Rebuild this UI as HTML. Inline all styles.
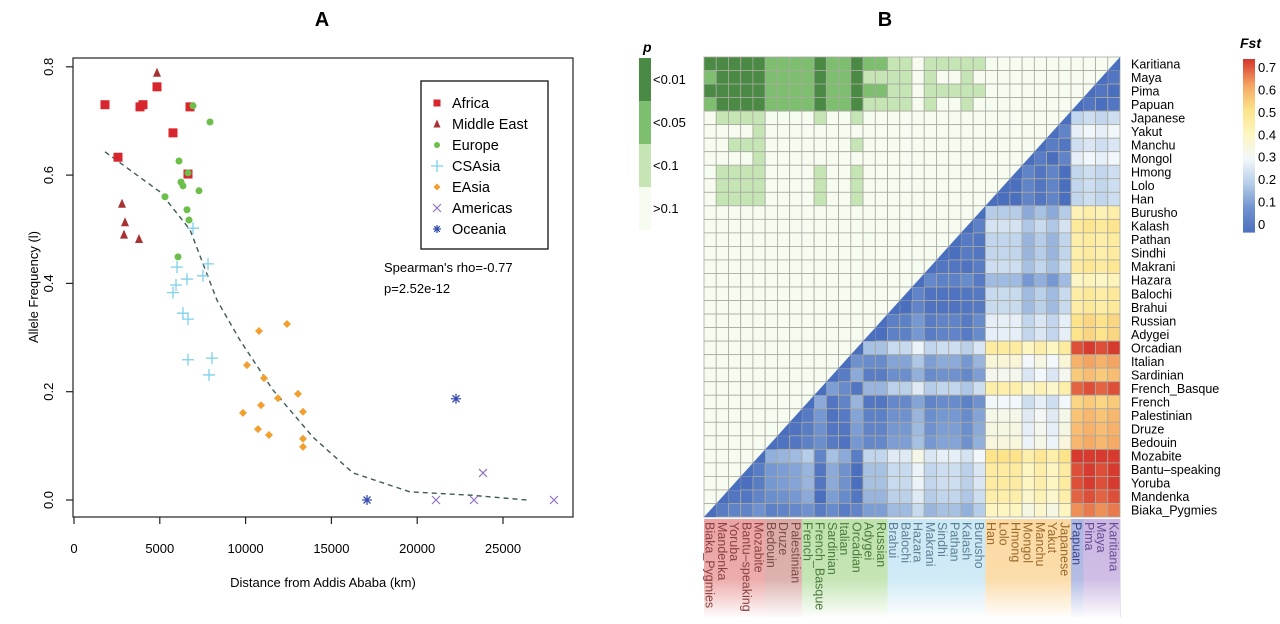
<!DOCTYPE html>
<html><head><meta charset="utf-8"><style>
html,body{margin:0;padding:0;background:#fff;}
svg{display:block;font-family:"Liberation Sans",sans-serif;}
</style></head><body>
<svg id="fig" width="1280" height="624" viewBox="0 0 1280 624" xmlns="http://www.w3.org/2000/svg">
<g id="panelA">
<text x="322" y="26" font-size="20" font-weight="bold" text-anchor="middle">A</text>
<rect x="73" y="58" width="500" height="459" fill="none" stroke="#222" stroke-width="1.2"/>
<text transform="translate(38,287) rotate(-90)" font-size="13" text-anchor="middle">Allele Frequency (l)</text>
<text x="323" y="587" font-size="13" text-anchor="middle">Distance from Addis Ababa (km)</text>
<g id="ticks"></g><g id="curve"></g><g id="points"></g>
<g>
<rect x="421" y="81" width="127" height="168" fill="#fff" stroke="#111" stroke-width="1.3"/>
<g id="legend"></g>
</g>
<text x="384" y="272" font-size="13">Spearman's rho=-0.77</text>
<text x="384" y="293" font-size="13">p=2.52e-12</text>
</g>
<g id="panelB">
<text x="885" y="26" font-size="20" font-weight="bold" text-anchor="middle">B</text>
<g id="cells"></g><g id="rowlabels"></g><g id="collabels"></g>
<text x="643" y="52" font-size="14" font-weight="bold" font-style="italic">p</text>
<g id="plegend"></g>
<text x="1240" y="48" font-size="14" font-weight="bold" font-style="italic">Fst</text>
<g id="flegend"></g>
</g>
</svg>
<script>
var NS="http://www.w3.org/2000/svg";
function mk(tag,attrs,parent,txt){var e=document.createElementNS(NS,tag);for(var k in attrs)e.setAttribute(k,attrs[k]);if(txt!==undefined)e.textContent=txt;parent.appendChild(e);return e;}

// ---- Panel A data ----
var africaKm=[1807,3846,4020,4837,6760,5769,2564,6643];
var africaFreq=[0.73,0.726,0.73,0.763,0.726,0.678,0.633,0.602];
var meKm=[4837,2797,2972,2914,3788];
var meFreq=[0.789,0.547,0.513,0.49,0.482];
var europeKm=[6935,7925,6119,6643,6235,6352,7284,5303,6585,6702,6061];
var europeFreq=[0.728,0.698,0.626,0.604,0.587,0.58,0.571,0.56,0.536,0.517,0.449];
var csasiaKm=[6935,6002,6585,5944,5769,7517,7809,6352,6643,6643,8042,7867];
var csasiaFreq=[0.502,0.43,0.408,0.397,0.383,0.414,0.436,0.345,0.334,0.259,0.262,0.231];
var easiaKm=[12413,10781,10082,11072,11888,13054,10897,13345,9848,10723,11364,13345,13345];
var easiaFreq=[0.325,0.312,0.249,0.225,0.188,0.196,0.175,0.163,0.161,0.131,0.12,0.113,0.098];
var americasKm=[21096,23310,27972,23834];
var americasFreq=[0,0,0,0.05];
var oceaniaKm=[17075,22261];
var oceaniaFreq=[0,0.187];
var trendKm=[1807,5012,6760,8333,9674,11597,13928,16259,19580,23077,26400];
var trendFreq=[0.643,0.569,0.499,0.369,0.295,0.203,0.116,0.05,0.015,0.009,0];
var xTicks=[0,5000,10000,15000,20000,25000];
var yTicks=[0,0.2,0.4,0.6,0.8];
var yTickLabels=["0.0","0.2","0.4","0.6","0.8"];

function sx(km){return 74+km*0.01716;}
function sy(v){return 500-v*541.5;}

var tk=document.getElementById('ticks');
xTicks.forEach(function(t){
  var l=mk('line',{x1:sx(t),x2:sx(t),y1:517,y2:524,stroke:'#222','stroke-width':1.2},tk);
  
  
  var tx=mk('text',{x:sx(t),y:553,'font-size':13,'text-anchor':'middle'},tk,String(t));
  
  
});
yTicks.forEach(function(t,i){
  var l=mk('line',{x1:66,x2:73,y1:sy(t),y2:sy(t),stroke:'#222','stroke-width':1.2},tk);
  
  
  var tx=mk('text',{transform:'translate(53,'+sy(t)+') rotate(-90)','font-size':13,'text-anchor':'middle'},tk,yTickLabels[i]);
  
  
});
var cv=document.getElementById('curve');
var d='';trendKm.forEach(function(k,i){d+=(i?'L':'M')+sx(k)+','+sy(trendFreq[i]);});
var tp=mk('path',{d:d,fill:'none',stroke:'#3f5a55','stroke-width':1.4,'stroke-dasharray':'5,4'},cv);



function sym(kind,x,y,g,s){
  var e;
  if(kind==='sq'){e=mk('rect',{x:x-s,y:y-s,width:2*s,height:2*s,fill:'#d7262e'},g);}
  else if(kind==='tri'){e=mk('path',{d:'M'+x+','+(y-s-1)+'L'+(x+s)+','+(y+s)+'L'+(x-s)+','+(y+s)+'Z',fill:'#a83232'},g);}
  else if(kind==='dot'){e=mk('circle',{cx:x,cy:y,r:s-0.5,fill:'#6cbf4a'},g);}
  else if(kind==='dia'){e=mk('path',{d:'M'+x+','+(y-s)+'L'+(x+s)+','+y+'L'+x+','+(y+s)+'L'+(x-s)+','+y+'Z',fill:'#f0a030'},g);}
  else if(kind==='plus'){e=mk('path',{d:'M'+(x-s-2)+','+y+'H'+(x+s+2)+'M'+x+','+(y-s-2)+'V'+(y+s+2),stroke:'#7fd0ea','stroke-width':1.3,fill:'none'},g);}
  else if(kind==='x'){e=mk('path',{d:'M'+(x-s)+','+(y-s)+'L'+(x+s)+','+(y+s)+'M'+(x-s)+','+(y+s)+'L'+(x+s)+','+(y-s),stroke:'#9370c0','stroke-width':1.2,fill:'none'},g);}
  else {e=mk('path',{d:'M'+(x-s)+','+y+'H'+(x+s)+'M'+x+','+(y-s)+'V'+(y+s)+'M'+(x-s*0.7)+','+(y-s*0.7)+'L'+(x+s*0.7)+','+(y+s*0.7)+'M'+(x-s*0.7)+','+(y+s*0.7)+'L'+(x+s*0.7)+','+(y-s*0.7),stroke:'#3a50b0','stroke-width':1.3,fill:'none'},g);}
  return e;
}
var pts=document.getElementById('points');
var groups=[['sq',africaKm,africaFreq,'africa-point',4.5],['tri',meKm,meFreq,'middle-east-point',4],['dot',europeKm,europeFreq,'europe-point',4],['plus',csasiaKm,csasiaFreq,'csasia-point',4],['dia',easiaKm,easiaFreq,'easia-point',4],['x',americasKm,americasFreq,'americas-point',4],['ast',oceaniaKm,oceaniaFreq,'oceania-point',5]];
groups.forEach(function(gr){
  gr[1].forEach(function(k,i){
    var e=sym(gr[0],sx(k),sy(gr[2][i]),pts,gr[4]);
    
    
  });
});
var legendNames=['Africa','Middle East','Europe','CSAsia','EAsia','Americas','Oceania'];
var legendKinds=['sq','tri','dot','plus','dia','x','ast'];
var lg=document.getElementById('legend');
legendNames.forEach(function(n,i){
  var y=103+i*21;
  var s=sym(legendKinds[i],437,y,lg,legendKinds[i]==='plus'||legendKinds[i]==='x'||legendKinds[i]==='ast'?4:3.5);
  
  
  var t=mk('text',{x:452,y:y+5,'font-size':14.5},lg,n);
  
  
});

// ---- Panel B data ----
var pops=['Biaka_Pygmies','Mandenka','Yoruba','Bantu\u2013speaking','Mozabite','Bedouin','Druze','Palestinian','French','French_Basque','Sardinian','Italian','Orcadian','Adygei','Russian','Brahui','Balochi','Hazara','Makrani','Sindhi','Pathan','Kalash','Burusho','Han','Lolo','Hmong','Mongol','Manchu','Yakut','Japanese','Papuan','Pima','Maya','Karitiana'];
var regions=['AF','AF','AF','AF','AF','ME','ME','ME','EU','EU','EU','EU','EU','EU','EU','CS','CS','CS','CS','CS','CS','CS','CS','EA','EA','EA','EA','EA','EA','EA','OC','AM','AM','AM'];
var popScore=[0.1,0.06,0.04,0.04,0.0,0.15,0.16,0.17,0.2,0.06,0.18,0.14,0.04,0.22,0.22,0.27,0.27,0.33,0.26,0.28,0.28,0.25,0.3,0.5,0.5,0.5,0.44,0.48,0.44,0.5,0.72,0.74,0.72,0.74];
var fstTicks=[0,0.1,0.2,0.3,0.4,0.5,0.6,0.7];
var pLabels=['<0.01','<0.05','<0.1','>0.1'];

var X0=704,Y0=57,CW=(1120-704)/34,CH=(517-57)/34,N=34;
var stops=[[0,[75,111,191]],[0.1,[111,146,207]],[0.2,[181,205,232]],[0.3,[242,247,251]],[0.4,[253,246,192]],[0.5,[253,227,138]],[0.6,[244,164,98]],[0.7,[215,58,47]]];
function fstColor(v){
  v=Math.max(0,Math.min(0.7,v));
  for(var i=0;i<stops.length-1;i++){if(v<=stops[i+1][0]){var t=(v-stops[i][0])/(stops[i+1][0]-stops[i][0]);var a=stops[i][1],b=stops[i+1][1];return 'rgb('+Math.round(a[0]+(b[0]-a[0])*t)+','+Math.round(a[1]+(b[1]-a[1])*t)+','+Math.round(a[2]+(b[2]-a[2])*t)+')';}}
  return 'rgb(215,58,47)';
}
var pColors=['#4a8a44','#7dbf6e','#c5e5b5','#f7fcf0'];
function pLevel(d){if(d>=0.64)return 0;if(d>=0.52)return 1;if(d>=0.44)return 2;return 3;}
var cg=document.getElementById('cells');
for(var r=0;r<N;r++){
  var a=N-1-r;
  for(var j=0;j<N;j++){
    var x=X0+j*CW,y=Y0+r*CH,dd=Math.abs(popScore[a]-popScore[j]),fill;
    if(j>a)fill=fstColor(dd);else fill=pColors[pLevel(dd)];
    var c=mk('rect',{x:x,y:y,width:CW,height:CH,fill:fill,stroke:'#a9a9a0','stroke-width':0.8},cg);
    
    
  }
}
for(var k=0;k<N;k++){
  var xx=X0+k*CW,yy=Y0+(N-1-k)*CH;
  var h=mk('path',{d:'M'+xx+','+(yy+CH)+'L'+(xx+CW)+','+yy+'L'+(xx+CW)+','+(yy+CH)+'Z',fill:'#4b6fbf'},cg);
  
  
}
var rl=document.getElementById('rowlabels');
for(var r2=0;r2<N;r2++){
  var t=mk('text',{x:1131,y:Y0+r2*CH+CH/2+4.5,'font-size':12.5},rl,pops[N-1-r2]);
  
  
}
var bandCol={AF:'#eba3a3',ME:'#d9a9a6',EU:'#bfe2ad',CS:'#cbe8f5',EA:'#fbd9a2',OC:'#aab5e2',AM:'#cbb7e3'};
var textCol={AF:'#8a4040',ME:'#7d4a48',EU:'#4b7a3c',CS:'#5d7f96',EA:'#9a6a2c',OC:'#3d478a',AM:'#6a4b92'};
var defs=mk('defs',{},document.getElementById('fig'));
var gradg=mk('linearGradient',{id:'fade',x1:0,y1:0,x2:0,y2:1},defs);
mk('stop',{offset:'0','stop-color':'#fff','stop-opacity':0},gradg);
mk('stop',{offset:'0.6','stop-color':'#fff','stop-opacity':0.1},gradg);
mk('stop',{offset:'1','stop-color':'#fff','stop-opacity':1},gradg);
var cl=document.getElementById('collabels');
for(var j2=0;j2<N;j2++){
  var bx=X0+j2*CW;
  var b=mk('rect',{x:bx,y:519,width:CW+0.4,height:98,fill:bandCol[regions[j2]]},cl);
  
  
}
var fr=mk('rect',{x:X0,y:519,width:N*CW,height:100,fill:'url(#fade)'},cl);


for(var j3=0;j3<N;j3++){
  var cx=X0+j3*CW+CW/2-4.5;
  var ct=mk('text',{transform:'translate('+cx+',522) rotate(90)','font-size':12.5,fill:textCol[regions[j3]]},cl,pops[j3]);
  
  
}
var pl=document.getElementById('plegend');
pLabels.forEach(function(lab,i){
  var y=58+i*43;
  var rc=mk('rect',{x:639,y:y,width:12,height:43,fill:pColors[i]},pl);
  
  
  var tx=mk('text',{x:653,y:y+26,'font-size':13},pl,lab);
  
  
});
var fl=document.getElementById('flegend');
var fTop=59,fBot=232;
for(var i=0;i<70;i++){
  var v0=0.7-i*0.01;
  var yy2=fTop+(fBot-fTop)*i/70;
  mk('rect',{x:1243,y:yy2,width:12,height:(fBot-fTop)/70+0.6,fill:fstColor(v0)},fl);
}
fstTicks.forEach(function(t){
  var y=fBot-8-(fBot-fTop-16)*t/0.7;
  var tx=mk('text',{x:1258,y:y+5,'font-size':13},fl,String(t));
  
  
});
</script>
</body></html>
